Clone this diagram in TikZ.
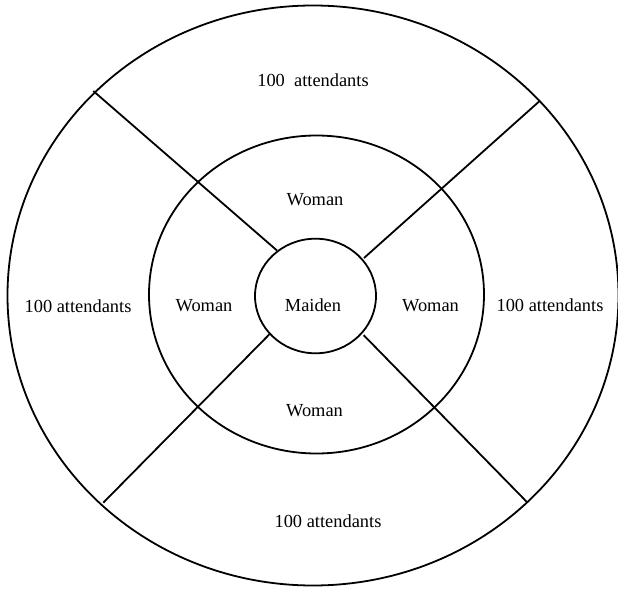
\documentclass[tikz,border=0pt]{standalone}
\usepackage{fontspec}
\setmainfont{Liberation Serif}
\begin{document}
\begin{tikzpicture}[x=0.5pt,y=-0.5pt,line width=0.9pt,
  lbl/.style={anchor=base,inner sep=0pt,font=\fontsize{9.2}{11}\selectfont}]
\useasboundingbox[fill=white] (0,0) rectangle (618,589);
% rings
\draw (313,295.5) ellipse [x radius=305.5, y radius=290];
\draw (316.5,294.5) ellipse [x radius=167.5, y radius=159];
\draw (315.5,296) ellipse [x radius=60.5, y radius=57.3];
% spoke ends
\coordinate (ulo) at (93.3,91);
\coordinate (uli) at (277,250.5);
\coordinate (uro) at (540,100.7);
\coordinate (uri) at (364,258);
\coordinate (llo) at (103.3,502.7);
\coordinate (lli) at (269.5,334.2);
\coordinate (lro) at (527.6,502.7);
\coordinate (lri) at (363.7,335.2);
\draw (ulo) -- (uli);
\draw (uro) -- (uri);
\draw (llo) -- (lli);
\draw (lro) -- (lri);
% labels
\node[lbl] (top) at (313,86) {100\ \ attendants};
\node[lbl] (bot) at (328,528) {100 attendants};
\node[lbl] (lft) at (78,313) {100 attendants};
\node[lbl] (rgt) at (550,312) {100 attendants};
\node[lbl] (wt) at (315,205.5) {Woman};
\node[lbl] (wb) at (314.5,416) {Woman};
\node[lbl] (wl) at (204,312) {Woman};
\node[lbl] (wr) at (430.5,312) {Woman};
\node[lbl] (maiden) at (313,312) {Maiden};
\end{tikzpicture}
\end{document}
